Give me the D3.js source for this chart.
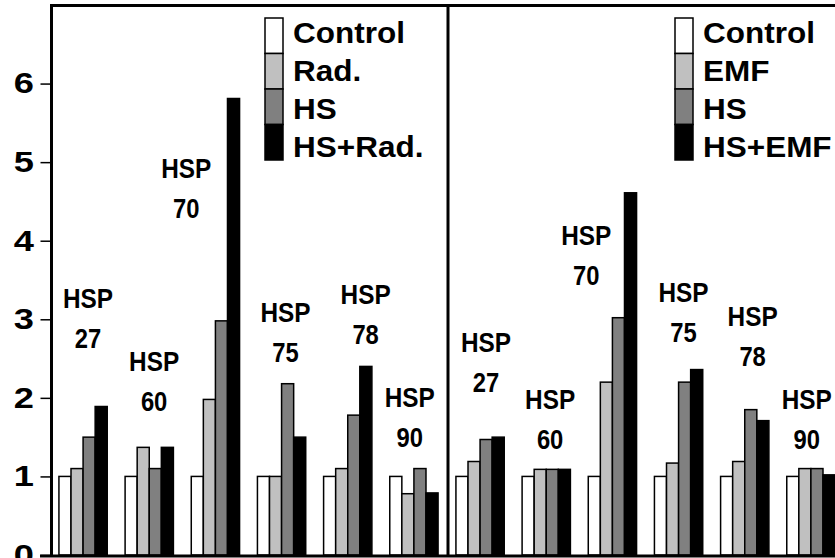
<!DOCTYPE html>
<html>
<head>
<meta charset="utf-8">
<script src="https://cdn.jsdelivr.net/npm/d3@7"></script>
<style>
  html, body { margin: 0; padding: 0; background: #fff; }
  svg { display: block; }
  text { font-family: "Liberation Sans", Arial, sans-serif; font-weight: bold; }
</style>
</head>
<body>
<svg id="chart" width="835" height="558"></svg>
<script>
const proteins = ['27', '60', '70', '75', '78', '90'];
const leftSeries = ['Control', 'Rad.', 'HS', 'HS+Rad.'];
const rightSeries = ['Control', 'EMF', 'HS', 'HS+EMF'];
const fills = ['#ffffff', '#c0c0c0', '#808080', '#000000'];
const yTicks = [0, 1, 2, 3, 4, 5, 6];

// values per protein: [control, treatment, HS, HS+treatment]
const radValues = [
  [1.0, 1.1, 1.5, 1.89],
  [1.0, 1.37, 1.1, 1.37],
  [1.0, 1.98, 2.98, 5.81],
  [1.0, 1.0, 2.18, 1.5],
  [1.0, 1.1, 1.78, 2.4],
  [1.0, 0.78, 1.1, 0.79]
];
const emfValues = [
  [1.0, 1.19, 1.47, 1.5],
  [1.0, 1.09, 1.09, 1.09],
  [1.0, 2.2, 3.02, 4.61],
  [1.0, 1.17, 2.2, 2.36],
  [1.0, 1.19, 1.85, 1.71],
  [1.0, 1.1, 1.1, 1.02]
];

// "HSP nn" label anchors: height in value units, offset from group start in px
const radLabelY = [3.15, 2.34, 4.8, 2.97, 3.2, 1.89];
const emfLabelY = [2.58, 1.86, 3.94, 3.22, 2.91, 1.86];
const radLabelDx = [29, 29, -5, 28, 42, 20];
const emfLabelDx = [30, 28, -2, 29, 32, 20];

const svg = d3.select('#chart');
const y = d3.scaleLinear().domain([0, 7]).range([555, 5]);

function panel(x0, x1, values, series, labelY, labelDx, legendX) {
  const g = svg.append('g');
  const x = d3.scaleBand().domain(proteins).range([x0, x1])
    .paddingInner(0.27).paddingOuter(0.135);
  const xi = d3.scaleBand().domain(d3.range(4)).range([0, x.bandwidth()]);

  const groups = g.selectAll('g.grp')
    .data(values.map((v, i) => ({ p: proteins[i], v: v, ly: labelY[i], dx: labelDx[i] })))
    .join('g')
    .attr('class', 'grp')
    .attr('transform', d => `translate(${x(d.p)},0)`);

  groups.selectAll('rect')
    .data(d => d.v)
    .join('rect')
    .attr('x', (d, i) => xi(i))
    .attr('y', d => y(d))
    .attr('width', xi.bandwidth())
    .attr('height', d => y(0) - y(d))
    .attr('fill', (d, i) => fills[i])
    .attr('stroke', '#000')
    .attr('stroke-width', 1.5);

  // condensed bold labels
  groups.append('text')
    .attr('transform', d => `translate(${d.dx},${y(d.ly)}) scale(0.87,1)`)
    .attr('text-anchor', 'middle')
    .attr('font-size', 28)
    .text('HSP');
  groups.append('text')
    .attr('transform', d => `translate(${d.dx},${y(d.ly) + 40}) scale(0.85,1)`)
    .attr('text-anchor', 'middle')
    .attr('font-size', 28)
    .text(d => d.p);

  // legend
  const lg = g.append('g').attr('transform', `translate(${legendX},18)`);
  const sh = 35.5;
  lg.selectAll('rect')
    .data(series)
    .join('rect')
    .attr('x', 0)
    .attr('y', (d, i) => i * sh)
    .attr('width', 18)
    .attr('height', sh)
    .attr('fill', (d, i) => fills[i])
    .attr('stroke', '#000')
    .attr('stroke-width', 1.5);
  lg.selectAll('text')
    .data(series)
    .join('text')
    .attr('transform', (d, i) => `translate(28,${25 + i * 38}) scale(1.05,1)`)
    .attr('font-size', 30)
    .text(d => d);

  return x;
}

panel(50, 447, radValues, leftSeries, radLabelY, radLabelDx, 265);
panel(447, 844, emfValues, rightSeries, emfLabelY, emfLabelDx, 675);

// frame
svg.append('line').attr('x1', 50).attr('x2', 835).attr('y1', 5.5).attr('y2', 5.5)
  .attr('stroke', '#000').attr('stroke-width', 3);
svg.append('line').attr('x1', 448).attr('x2', 448).attr('y1', 5).attr('y2', 556)
  .attr('stroke', '#000').attr('stroke-width', 3);
svg.append('line').attr('x1', 40).attr('x2', 835).attr('y1', 556).attr('y2', 556)
  .attr('stroke', '#000').attr('stroke-width', 3);

// y axis
const axis = svg.append('g')
  .attr('transform', 'translate(51.5,0)')
  .call(d3.axisLeft(y).tickValues(yTicks).tickSize(11).tickPadding(3).tickFormat(d3.format('d')));
axis.select('.domain').attr('d', 'M0,5V556').attr('stroke-width', 3);
axis.selectAll('.tick line').attr('stroke-width', 1.5);
axis.selectAll('.tick text')
  .attr('font-size', 29)
  .attr('fill', '#000')
  .attr('transform', 'scale(1.25,1)');
</script>
</body>
</html>
